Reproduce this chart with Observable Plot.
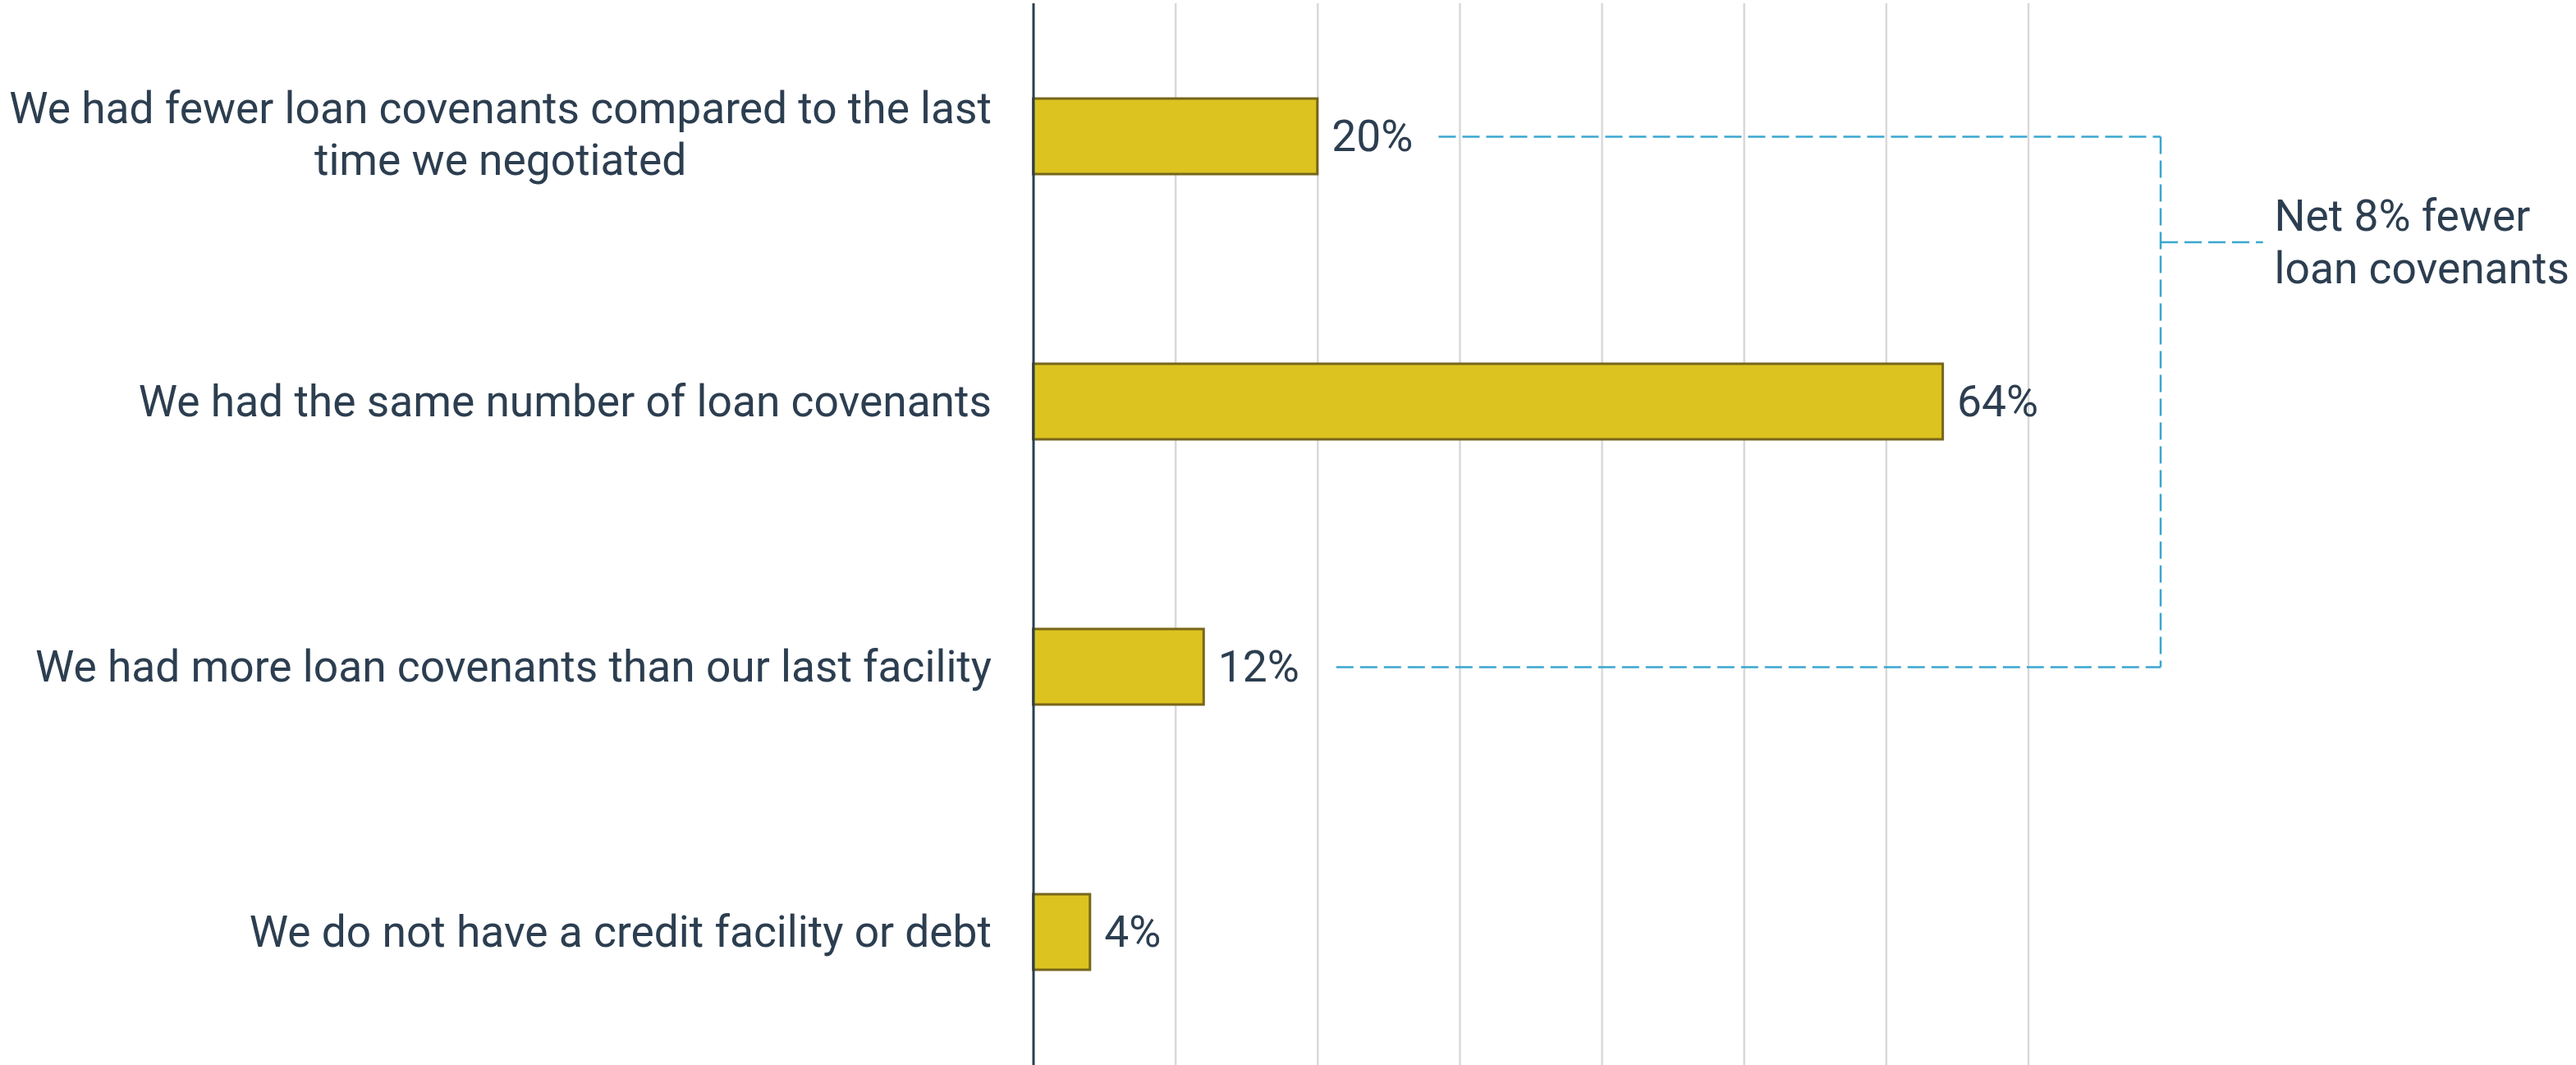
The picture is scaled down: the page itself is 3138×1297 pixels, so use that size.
<!DOCTYPE html>
<html>
<head>
<meta charset="utf-8">
<script src="https://cdn.jsdelivr.net/npm/d3@7"></script>
<script src="https://cdn.jsdelivr.net/npm/@observablehq/plot@0.6"></script>
<style>
  html, body { margin: 0; padding: 0; background: #ffffff; overflow: hidden; }
  #chart svg { display: block; }
</style>
</head>
<body>
<div id="chart"></div>
<script>
// ---- data ----
const categories = [
  "We had fewer loan covenants compared to the last\ntime we negotiated",
  "We had the same number of loan covenants",
  "We had more loan covenants than our last facility",
  "We do not have a credit facility or debt"
];
const values = [20, 64, 12, 4];
const gridTicks = [10, 20, 30, 40, 50, 60, 70];

// annotation (in % units of the x scale)
const noteText = "Net 8% fewer\nloan covenants";
const bracketX = 79.3;
const leaderStart = [28.5, 21.3];   // for "fewer" (row 0) and "more" (row 2)
const noteTickEnd = 86.5;
const noteX = 87.3;

// ---- styles ----
const FONT = "Roboto, 'Noto Sans', sans-serif";
const FS = 53.3;
const TEXT = "#2c3e50";
const DASH = "#3aa6d0";

const data = categories.map((c, i) => ({category: c, value: values[i]}));
const single = data.filter(d => !d.category.includes("\n"));
const multi = data.filter(d => d.category.includes("\n"));

// measure longest line of the multi-line label for a center-aligned block
const ctx = document.createElement("canvas").getContext("2d");
ctx.font = `${FS}px Roboto`;
const multiWidth = multi.length ? d3.max(multi[0].category.split("\n"), s => ctx.measureText(s).width) : 0;

const gap = 51;
const leaders = [
  {x1: leaderStart[0], x2: bracketX, y1: categories[0], y2: categories[0]},
  {x1: leaderStart[1], x2: bracketX, y1: categories[2], y2: categories[2]},
  {x1: bracketX, x2: bracketX, y1: categories[0], y2: categories[2]}
];

const chart = Plot.plot({
  width: 3138,
  height: 1297,
  marginLeft: 1258.5,
  marginRight: 667.5,
  marginTop: 4,
  marginBottom: 0,
  style: {fontFamily: FONT, background: "#ffffff", overflow: "hidden"},
  x: {domain: [0, 70], axis: null},
  y: {domain: categories, axis: null, paddingInner: 0.715, paddingOuter: 0.359},
  marks: [
    Plot.ruleX(gridTicks, {stroke: "#d9d9d9", strokeWidth: 2.5}),
    Plot.barX(data, {x: "value", y: "category", fill: "#dcc320", stroke: "#77661a", strokeWidth: 3}),
    Plot.ruleX([0], {stroke: TEXT, strokeWidth: 3}),
    Plot.text(data, {x: "value", y: "category", text: d => d.value + "%", dx: 17,
      textAnchor: "start", fontSize: FS, fill: TEXT}),
    Plot.text(single, {y: "category", text: "category", frameAnchor: "left", textAnchor: "end",
      dx: -gap, fontSize: FS, fill: TEXT}),
    Plot.text(multi, {y: "category", text: "category", frameAnchor: "left", textAnchor: "middle",
      dx: -gap - multiWidth / 2, dy: -5, fontSize: FS, fill: TEXT, lineHeight: 1.17}),
    Plot.link(leaders, {x1: "x1", x2: "x2", y1: "y1", y2: "y2", stroke: DASH,
      strokeWidth: 2.5, strokeDasharray: "21,8"}),
    Plot.link([{x1: bracketX, x2: noteTickEnd, y: categories[0]}], {x1: "x1", x2: "x2", y1: "y", y2: "y",
      dy: 128.5, stroke: DASH, strokeWidth: 2.5, strokeDasharray: "21,8"}),
    Plot.text([{x: noteX, y: categories[0], t: noteText}], {x: "x", y: "y", text: "t", dy: 126,
      textAnchor: "start", lineAnchor: "middle", lineHeight: 1.2, fontSize: FS, fill: TEXT})
  ]
});
document.getElementById("chart").appendChild(chart);
</script>
</body>
</html>
